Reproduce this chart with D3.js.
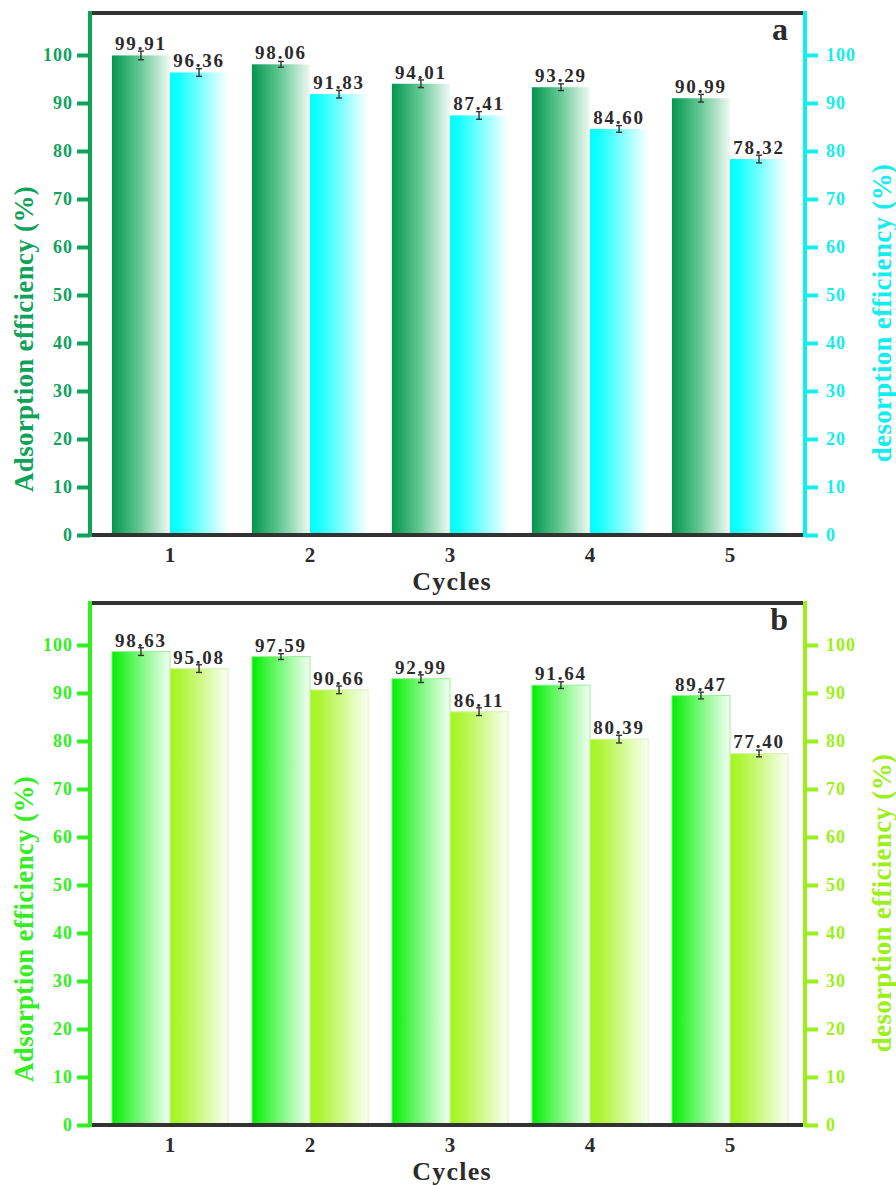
<!DOCTYPE html>
<html>
<head>
<meta charset="utf-8">
<script src="https://cdn.jsdelivr.net/npm/d3@7"></script>
<style>
  html, body { margin: 0; padding: 0; background: #fff; }
  svg { display: block; }
  text { font-family: "Liberation Serif", "Times New Roman", serif; font-weight: bold; }
</style>
</head>
<body>
<svg id="chart" width="896" height="1185"></svg>
<script>
// Regeneration cycles
const cycles = ["1", "2", "3", "4", "5"];

// Panel a: adsorption / desorption efficiency (%)
const adsorptionA = [99.91, 98.06, 94.01, 93.29, 90.99];
const desorptionA = [96.36, 91.83, 87.41, 84.60, 78.32];
const adsorptionErrA = [0.9, 0.6, 0.8, 0.7, 0.8];
const desorptionErrA = [0.8, 0.8, 0.8, 0.7, 0.8];

// Panel b: adsorption / desorption efficiency (%)
const adsorptionB = [98.63, 97.59, 92.99, 91.64, 89.47];
const desorptionB = [95.08, 90.66, 86.11, 80.39, 77.40];
const adsorptionErrB = [0.8, 0.6, 0.8, 0.7, 0.7];
const desorptionErrB = [0.8, 0.8, 0.8, 0.8, 0.7];

// Shared axis ticks
const yTickValues = [0, 10, 20, 30, 40, 50, 60, 70, 80, 90, 100];

const svg = d3.select("#chart");
const defs = svg.append("defs");

function makeGradient(id, stops) {
  const g = defs.append("linearGradient")
    .attr("id", id).attr("x1", "0%").attr("x2", "100%").attr("y1", "0%").attr("y2", "0%");
  stops.forEach(([o, c]) => g.append("stop").attr("offset", o).attr("stop-color", c));
}

makeGradient("gradAdsA", [["0%", "#03964f"], ["45%", "#5cc58f"], ["100%", "#f0f9f4"]]);
makeGradient("gradDesA", [["0%", "#00ffff"], ["15%", "#14ffff"], ["100%", "#ffffff"]]);
makeGradient("gradAdsB", [["0%", "#00ee00"], ["40%", "#66f766"], ["100%", "#f4fff4"]]);
makeGradient("gradDesB", [["0%", "#a3f51c"], ["20%", "#b0f53a"], ["100%", "#fbfff4"]]);

const x = d3.scaleBand().domain(cycles).range([100, 800]).paddingInner(0.17).paddingOuter(0.085);
const xSub = d3.scaleBand().domain(["ads", "des"]).range([0, x.bandwidth()]);

const plotLeft = 90, plotRight = 805;

function drawPanel(cfg) {
  const off = cfg.offset;
  const y = d3.scaleLinear().domain([0, 100]).range([535 + off, 55 + off]);
  const yTop = y(108.75);
  const g = svg.append("g");

  const rows = cycles.map((c, i) => ({
    c,
    ads: cfg.ads[i], des: cfg.des[i],
    adsErr: cfg.adsErr[i], desErr: cfg.desErr[i]
  }));

  // bars
  const series = [
    { key: "ads", fill: cfg.adsFill, stroke: cfg.adsStroke, val: d => d.ads, err: d => d.adsErr },
    { key: "des", fill: cfg.desFill, stroke: cfg.desStroke, val: d => d.des, err: d => d.desErr }
  ];
  series.forEach(s => {
    g.selectAll(null).data(rows).enter().append("rect")
      .attr("x", d => x(d.c) + xSub(s.key))
      .attr("y", d => y(s.val(d)))
      .attr("width", xSub.bandwidth())
      .attr("height", d => y(0) - y(s.val(d)))
      .attr("fill", s.fill)
      .attr("stroke", s.stroke)
      .attr("stroke-width", s.stroke === "none" ? 0 : 1);

    // error bars
    const cx = d => x(d.c) + xSub(s.key) + xSub.bandwidth() / 2;
    const eb = g.selectAll(null).data(rows).enter().append("g")
      .attr("stroke", "#333").attr("stroke-width", 1.4);
    eb.append("line").attr("x1", cx).attr("x2", cx)
      .attr("y1", d => y(s.val(d) + s.err(d))).attr("y2", d => y(s.val(d) - s.err(d)));
    eb.append("line").attr("x1", d => cx(d) - 3).attr("x2", d => cx(d) + 3)
      .attr("y1", d => y(s.val(d) + s.err(d))).attr("y2", d => y(s.val(d) + s.err(d)));
    eb.append("line").attr("x1", d => cx(d) - 3).attr("x2", d => cx(d) + 3)
      .attr("y1", d => y(s.val(d) - s.err(d))).attr("y2", d => y(s.val(d) - s.err(d)));

    // value labels
    g.selectAll(null).data(rows).enter().append("text")
      .attr("x", cx)
      .attr("y", d => y(s.val(d)) - 5)
      .attr("text-anchor", "middle")
      .attr("font-size", 19)
      .attr("letter-spacing", 1.8)
      .attr("fill", "#2b2b2b")
      .text(d => s.val(d).toFixed(2));
  });

  // top frame line and bottom axis line
  g.append("line").attr("x1", plotLeft).attr("x2", plotRight).attr("y1", yTop).attr("y2", yTop)
    .attr("stroke", "#333").attr("stroke-width", 4);
  g.append("line").attr("x1", plotLeft).attr("x2", plotRight).attr("y1", y(0)).attr("y2", y(0))
    .attr("stroke", "#333").attr("stroke-width", 4);

  // bottom axis labels
  const xAxis = g.append("g").attr("transform", `translate(0,${y(0)})`)
    .call(d3.axisBottom(x).tickSize(0).tickPadding(12));
  xAxis.select(".domain").remove();
  xAxis.selectAll("text")
    .attr("font-size", 21).attr("fill", "#2b2b2b")
    .attr("font-family", "Liberation Serif, serif").attr("font-weight", "bold");

  g.append("text").attr("x", 452).attr("y", y(0) + 55)
    .attr("text-anchor", "middle").attr("font-size", 26).attr("letter-spacing", 1.2)
    .attr("fill", "#2b2b2b").text("Cycles");

  // left axis
  const left = g.append("g").attr("transform", `translate(${plotLeft},0)`)
    .call(d3.axisLeft(y).tickValues(yTickValues).tickSize(13).tickSizeOuter(0).tickPadding(4));
  left.select(".domain").remove();
  left.selectAll(".tick line").attr("stroke", cfg.leftColor).attr("stroke-width", 4);
  left.selectAll(".tick text").attr("fill", cfg.leftColor).attr("font-size", 18)
    .attr("letter-spacing", 1)
    .attr("font-family", "Liberation Serif, serif").attr("font-weight", "bold");
  g.append("line").attr("x1", plotLeft).attr("x2", plotLeft).attr("y1", yTop - 2).attr("y2", y(0) + 2)
    .attr("stroke", cfg.leftColor).attr("stroke-width", 4);

  // right axis
  const right = g.append("g").attr("transform", `translate(${plotRight},0)`)
    .call(d3.axisRight(y).tickValues(yTickValues).tickSize(13).tickSizeOuter(0).tickPadding(8));
  right.select(".domain").remove();
  right.selectAll(".tick line").attr("stroke", cfg.rightColor).attr("stroke-width", 4);
  right.selectAll(".tick text").attr("fill", cfg.rightColor).attr("font-size", 18)
    .attr("letter-spacing", 1)
    .attr("font-family", "Liberation Serif, serif").attr("font-weight", "bold");
  g.append("line").attr("x1", plotRight).attr("x2", plotRight).attr("y1", yTop - 2).attr("y2", y(0) + 2)
    .attr("stroke", cfg.rightColor).attr("stroke-width", 4);

  // axis titles
  g.append("text")
    .attr("transform", `translate(33,${339 + off}) rotate(-90)`)
    .attr("text-anchor", "middle").attr("font-size", 27).attr("letter-spacing", 0.3)
    .attr("fill", cfg.leftColor).text("Adsorption efficiency  (%)");
  g.append("text")
    .attr("transform", `translate(891,${313 + off}) rotate(-90)`)
    .attr("text-anchor", "middle").attr("font-size", 27).attr("letter-spacing", 0.3)
    .attr("fill", cfg.rightColor).text("desorption efficiency  (%)");

  // panel letter
  g.append("text").attr("x", 788).attr("y", yTop + 27)
    .attr("text-anchor", "end").attr("font-size", 32)
    .attr("fill", "#2b2b2b").text(cfg.letter);
}

drawPanel({
  offset: 0, letter: "a",
  ads: adsorptionA, des: desorptionA, adsErr: adsorptionErrA, desErr: desorptionErrA,
  adsFill: "url(#gradAdsA)", desFill: "url(#gradDesA)", adsStroke: "none", desStroke: "none",
  leftColor: "#0fa35a", rightColor: "#12eeee"
});

drawPanel({
  offset: 590, letter: "b",
  ads: adsorptionB, des: desorptionB, adsErr: adsorptionErrB, desErr: desorptionErrB,
  adsFill: "url(#gradAdsB)", desFill: "url(#gradDesB)", adsStroke: "#9bf09b", desStroke: "#d9f2b8",
  leftColor: "#33ee22", rightColor: "#9cf01a"
});
</script>
</body>
</html>
